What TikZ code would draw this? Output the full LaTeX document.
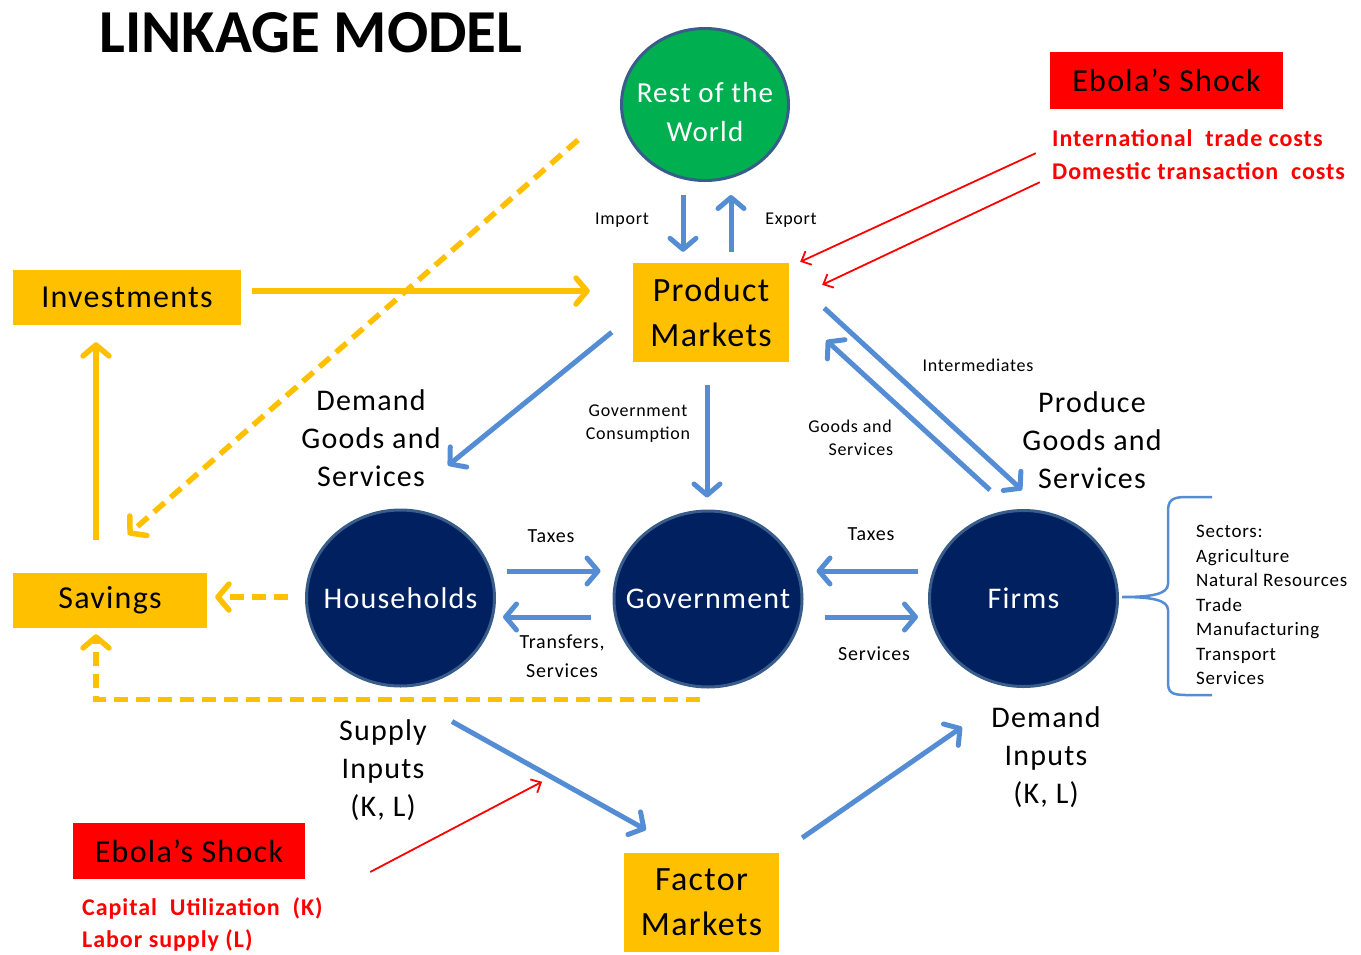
\documentclass[tikz,border=0pt]{standalone}
\usepackage{fontspec}
\setmainfont{Carlito}[LetterSpace=4]
\newfontfamily\titlefont{Carlito}
\usetikzlibrary{arrows.meta}
\usetikzlibrary{positioning}
\usetikzlibrary{shapes.geometric}

\definecolor{flowblue}{RGB}{84,141,212}
\definecolor{agentnavy}{RGB}{0,32,96}
\definecolor{agentrim}{RGB}{56,93,138}
\definecolor{worldgreen}{RGB}{0,176,80}
\definecolor{marketorange}{RGB}{255,192,0}
\definecolor{shockred}{RGB}{255,0,0}

\begin{document}
\begin{tikzpicture}
    [x=1pt,y=-1pt,
    market/.style={rectangle,fill=marketorange,inner sep=0pt,align=center,
      font=\fontsize{34}{45}\selectfont},
    account/.style={rectangle,fill=marketorange,inner sep=0pt,
      font=\fontsize{32}{38}\selectfont},
    shock/.style={rectangle,fill=shockred,inner sep=0pt,
      font=\fontsize{32}{38}\selectfont},
    agent/.style={ellipse,draw=agentrim,fill=agentnavy,line width=3pt,
      inner sep=0pt,minimum width=188pt,minimum height=176pt,text=white,
      font=\fontsize{30}{36}\selectfont},
    world/.style={ellipse,draw=agentrim,fill=worldgreen,line width=3pt,
      inner sep=0pt,minimum width=167pt,minimum height=152pt,text=white,
      font=\fontsize{29}{39}\selectfont},
    big note/.style={align=center,inner sep=0pt,font=\fontsize{30}{38}\selectfont},
    small note/.style={align=center,inner sep=0pt,font=\fontsize{18}{23}\selectfont},
    tax note/.style={align=center,inner sep=0pt,font=\fontsize{20}{29}\selectfont},
    cost/.style={anchor=west,inner sep=0pt,text=shockred,
      font=\bfseries\fontsize{24}{28}\selectfont},
    flow/.style={draw=flowblue,line width=5pt,
      -{Straight Barb[length=11pt,width=26pt,round]}},
    money/.style={draw=marketorange,line width=5.5pt,
      -{Straight Barb[length=11pt,width=26pt,round]}},
    saving/.style={money,dash pattern=on 14pt off 8pt},
    impact/.style={draw=shockred,line width=1.8pt,
      -{Straight Barb[length=8pt,width=15pt]}}]

    \useasboundingbox (0,0) rectangle (1361,954);

    \node[inner sep=0pt,font=\titlefont\bfseries\fontsize{61}{66}\selectfont]
      (title) at (311,33) {LINKAGE MODEL};

    % nodes
    \node[world]  (rest of world)   at (705,104.5)
      {\makebox[0pt]{\raisebox{-16pt}[0pt][0pt]{\begin{tabular}{@{}c@{}}Rest of the\\World\end{tabular}}}};

    \node[market,minimum width=156pt,minimum height=99pt]
                  (product markets) at (711,312.5) {Product\\Markets};

    \node[market,minimum width=155pt,minimum height=99pt]
                  (factor markets)  at (701.5,902.5) {Factor\\Markets};

    \node[account,minimum width=228pt,minimum height=55pt]
                  (investments)     at (127,297.5) {Investments};

    \node[account,minimum width=194pt,minimum height=55pt]
                  (savings)         at (110,600.5) {Savings};

    \node[agent]  (households)      at (400.5,598) {\makebox[0pt]{Households}};

    \node[agent]  (government)      at (708,599) {\makebox[0pt]{Government}};

    \node[agent]  (firms)           at (1023.5,598.5) {\makebox[0pt]{Firms}};

    \node[shock,minimum width=233pt,minimum height=57pt]
                  (shock top)       at (1166.5,80.5) {Ebola’s Shock};

    \node[shock,minimum width=232pt,minimum height=56pt]
                  (shock bottom)    at (189,851) {Ebola’s Shock};

    % shock texts
    \node[cost] (trade costs)       at (1052,138) {International \ trade costs};
    \node[cost] (transaction costs) at (1052,171) {Domestic transaction \ costs};
    \node[cost] (capital use)       at (82,908)   {Capital \ Utilization \ (K)};
    \node[cost] (labor supply)      at (82,940)   {Labor supply (L)};

    % flows with the rest of the world
    \draw[flow] ([shift={(-22,13)}]rest of world.south)
             -- ([shift={(-28,-11)}]product markets.north);
    \draw[flow] ([shift={(20,-11)}]product markets.north)
             -- ([shift={(26,13)}]rest of world.south);
    \node[small note] (import) at (622,220) {Import};
    \node[small note] (export) at (791,220) {Export};

    % product market flows
    \draw[flow] ([shift={(-21,-30)}]product markets.south west)
             -- ([shift={(47.5,-43)}]households.north);
    \draw[flow] ([shift={(-4,23)}]product markets.south)
             -- ([shift={(-1,-12)}]government.north);
    \draw[flow] ([shift={(-33.5,-19)}]firms.north)
             -- ([shift={(37,-22)}]product markets.south east);
    \draw[flow] ([shift={(35,-4.5)}]product markets.east)
             -- ([shift={(-1.5,-19)}]firms.north);
    \node[big note]   (demand goods)  at (371,438)  {Demand\\Goods and\\Services};
    \node[small note] (gov cons)      at (638,424)  {Government\\Consumption};
    \node[small note] (goods back)    at (850,438)  {Goods and\\\hspace*{1.2em}Services};
    \node[small note] (intermediates) at (978,365)  {Intermediates};
    \node[big note]   (produce goods) at (1092,440) {Produce\\Goods and\\Services};

    % government flows
    \draw[flow] ([shift={(11,-27)}]households.east)
             -- ([shift={(-12,-28)}]government.west);
    \draw[flow] ([shift={(-22,18)}]government.west)
             -- ([shift={(7,19)}]households.east);
    \draw[flow] ([shift={(-10,-27.5)}]firms.west)
             -- ([shift={(13,-28)}]government.east);
    \draw[flow] ([shift={(21,18)}]government.east)
             -- ([shift={(-10,18.5)}]firms.west);
    \node[tax note] (taxes hh)     at (551,536) {Taxes};
    \node[tax note] (transfers)    at (562,656) {Transfers,\\Services};
    \node[tax note] (taxes firms)  at (871,534) {Taxes};
    \node[tax note] (services)     at (874,654) {Services};

    % factor market flows
    \draw[flow] ([shift={(51.5,34)}]households.south)
             -- coordinate[pos=0.464] (supply mid)
                ([shift={(-55.5,-23)}]factor markets.north);
    \draw[flow] ([shift={(23,-15)}]factor markets.north east)
             -- ([shift={(-61.5,39)}]firms.south);
    \node[big note] (supply inputs) at (383,770)  {Supply\\Inputs\\(K, L)};
    \node[big note] (demand inputs) at (1046,757) {Demand\\Inputs\\(K, L)};

    % savings and investment
    \draw[money] ([shift={(11,-6.5)}]investments.east)
              -- ([shift={(-43,-21.5)}]product markets.west);
    \draw[money] ([shift={(-14,-33)}]savings.north)
              -- ([shift={(-31,17)}]investments.south);
    \draw[saving] ([shift={(-42,35.5)}]rest of world.west)
               -- ([shift={(18,-38)}]savings.north);
    \draw[saving] ([shift={(-17,-1)}]households.west)
               -- ([shift={(8,-3.5)}]savings.east);
    \draw[saving] ([shift={(-8,11)}]government.south)
               -| ([shift={(-14,6)}]savings.south);

    % shocks
    \draw[impact] ([shift={(-14,44)}]shock top.south west)
               -- ([shift={(11,-1)}]product markets.north east);
    \draw[impact] ([shift={(-10,73)}]shock top.south west)
               -- ([shift={(33,22)}]product markets.north east);
    \draw[impact] ([shift={(65,21)}]shock bottom.east)
               -- ([shift={(0,10)}]supply mid);

    % sectors
    \draw[flowblue,line width=2.5pt]
      (1212,497) -- (1186,497) .. controls (1171,497) and (1168,501) .. (1168,512)
      -- (1168,584) .. controls (1168,594) and (1152,597) .. (1122,597)
      .. controls (1152,597) and (1168,600) .. (1168,610)
      -- (1168,682) .. controls (1168,692) and (1171,695) .. (1186,695) -- (1212,695);
    \node[anchor=north west,align=left,inner sep=0pt,
      font=\fontsize{19}{24.5}\selectfont] (sectors) at (1196,525)
      {Sectors:\\Agriculture\\Natural Resources\\Trade\\Manufacturing\\Transport\\Services};

  \end{tikzpicture}
\end{document}
